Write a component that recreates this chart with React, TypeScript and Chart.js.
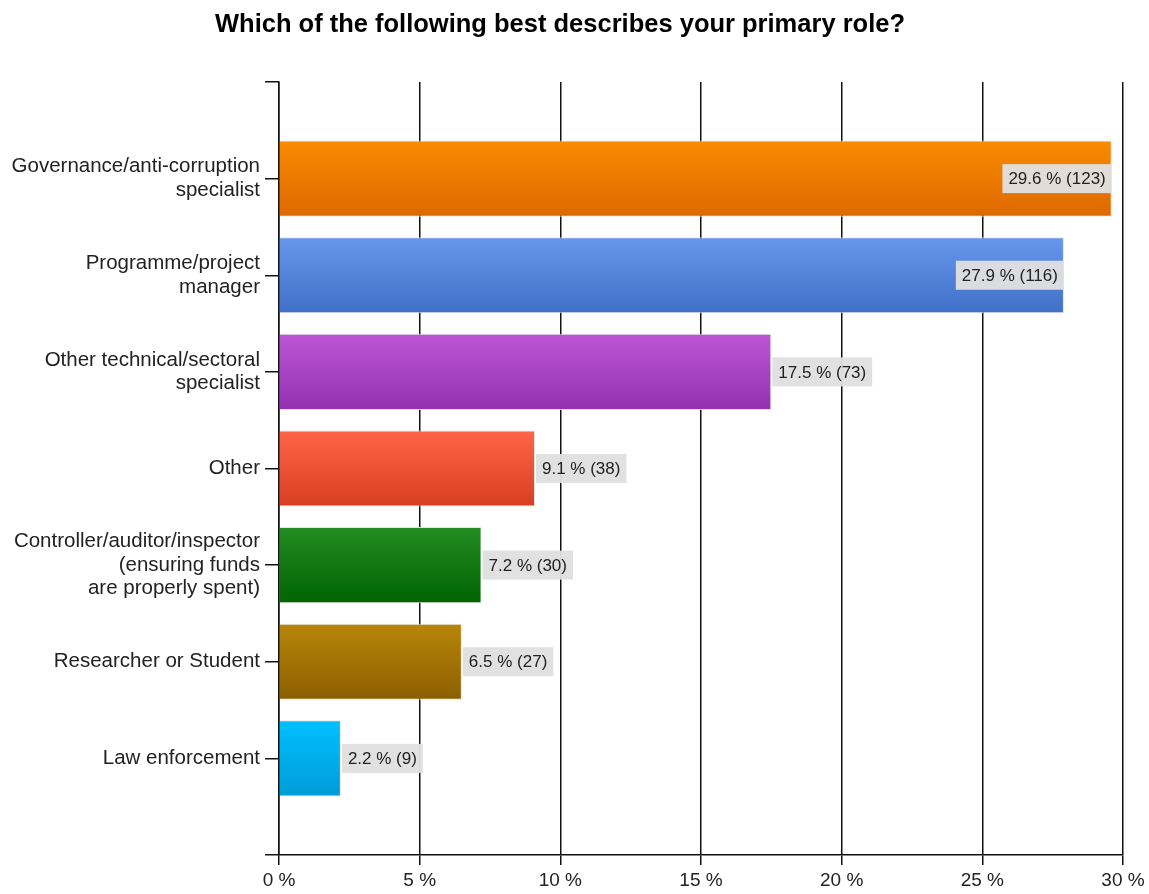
import React, { useEffect, useRef } from "react";
import { Chart, registerables } from "chart.js";

Chart.register(...registerables);

const TITLE = "Which of the following best describes your primary role?";

const roles: (string | string[])[] = [
  ["Governance/anti-corruption", "specialist"],
  ["Programme/project", "manager"],
  ["Other technical/sectoral", "specialist"],
  "Other",
  ["Controller/auditor/inspector", "(ensuring funds", "are properly spent)"],
  "Researcher or Student",
  "Law enforcement",
];
const percents = [29.6, 27.9, 17.5, 9.1, 7.2, 6.5, 2.2];
const counts = [123, 116, 73, 38, 30, 27, 9];

const topColors = ["#F98C00", "#6797EC", "#BC56D6", "#FF6446", "#238C23", "#B8860B", "#00BFFF"];
const bottomColors = ["#DE6800", "#4170C8", "#9331B0", "#D83F22", "#006400", "#8B6000", "#009CD8"];

const X_MAX = 30;
const X_STEP = 5;
const BAR_FRACTION = 0.787;

const FONT = '"Liberation Sans", Arial, sans-serif';

// Empty slots above and below the roles give a full band of space at each end.
const yLabels: (string | string[])[] = ["", ...roles, ""];
const yData: (number | null)[] = [null, ...percents, null];

const barFill = (c: any) => {
  const chart = c.chart;
  if (c.type !== "data") return topColors[0];
  const k = c.dataIndex - 1;
  if (k < 0 || k >= percents.length) return "transparent";
  const ys = chart.scales && chart.scales.y;
  if (!ys || !chart.chartArea) return topColors[k];
  const center = ys.getPixelForValue(c.dataIndex);
  const half = (Math.abs(ys.getPixelForValue(1) - ys.getPixelForValue(0)) * BAR_FRACTION) / 2;
  if (!isFinite(center) || !isFinite(half) || half <= 0) return topColors[k];
  const g = chart.ctx.createLinearGradient(0, center - half, 0, center + half);
  g.addColorStop(0, topColors[k]);
  g.addColorStop(1, bottomColors[k]);
  return g;
};

const titlePlugin = {
  id: "roleTitle",
  afterDraw(chart: any) {
    const ctx = chart.ctx;
    ctx.save();
    ctx.font = `bold 25.5px ${FONT}`;
    ctx.fillStyle = "#000";
    ctx.textAlign = "center";
    ctx.textBaseline = "alphabetic";
    ctx.fillText(TITLE, 560, 32);
    ctx.restore();
  },
};

const valueLabels = {
  id: "valueLabels",
  afterDatasetsDraw(chart: any) {
    const meta = chart.getDatasetMeta(0);
    const ctx = chart.ctx;
    const area = chart.chartArea;
    ctx.save();
    ctx.font = `17px ${FONT}`;
    ctx.textBaseline = "middle";
    ctx.textAlign = "left";
    meta.data.forEach((bar: any, i: number) => {
      const k = i - 1;
      if (k < 0 || k >= percents.length) return;
      const text = `${percents[k]} % (${counts[k]})`;
      const w = ctx.measureText(text).width + 12;
      const h = 29;
      const { x, y } = bar.getProps(["x", "y"], true);
      let left = x + 1;
      if (left + w > area.right) left = x - w;
      ctx.fillStyle = "rgba(224,224,224,0.96)";
      ctx.fillRect(left, y - h / 2, w, h);
      ctx.fillStyle = "#222";
      ctx.fillText(text, left + 6, y + 1);
    });
    ctx.restore();
  },
};

export default function App() {
  const canvasRef = useRef<HTMLCanvasElement | null>(null);

  useEffect(() => {
    if (!canvasRef.current) return;
    const chart = new Chart(canvasRef.current, {
      type: "bar",
      data: {
        labels: yLabels,
        datasets: [
          {
            data: yData,
            backgroundColor: barFill,
            borderColor: "rgba(225,225,225,0.9)",
            borderWidth: 1,
            barPercentage: BAR_FRACTION,
            categoryPercentage: 1,
          },
        ],
      },
      options: {
        indexAxis: "y",
        responsive: false,
        animation: false,
        layout: { padding: { top: 82, right: 26, left: 0, bottom: 0 } },
        plugins: {
          legend: { display: false },
          tooltip: { enabled: false },
          title: { display: false },
        },
        scales: {
          x: {
            type: "linear",
            min: 0,
            max: X_MAX,
            ticks: {
              stepSize: X_STEP,
              callback: (v: any) => `${v} %`,
              font: { family: FONT, size: 19 },
              color: "#222",
              padding: 4,
              maxRotation: 0,
            },
            grid: { color: "#111", lineWidth: 1.5, tickLength: 10 },
            border: { display: true, color: "#111", width: 1.5 },
            afterFit: (s: any) => {
              s.height = 39;
            },
          },
          y: {
            type: "category",
            offset: false,
            ticks: {
              autoSkip: false,
              font: { family: FONT, size: 20.5, lineHeight: 1.15 },
              color: "#222",
              padding: 5,
            },
            grid: { offset: false, drawOnChartArea: false, color: "#111", lineWidth: 1.5, tickLength: 14 },
            border: { display: true, color: "#111", width: 1.5 },
            afterFit: (s: any) => {
              s.width = 279;
            },
          },
        },
      },
      plugins: [titlePlugin, valueLabels],
    } as any);
    return () => chart.destroy();
  }, []);

  return (
    <div style={{ position: "absolute", left: 0, top: 0, width: 1149, height: 894, background: "#fff" }}>
      <canvas ref={canvasRef} width={1149} height={894} style={{ display: "block" }} />
    </div>
  );
}
